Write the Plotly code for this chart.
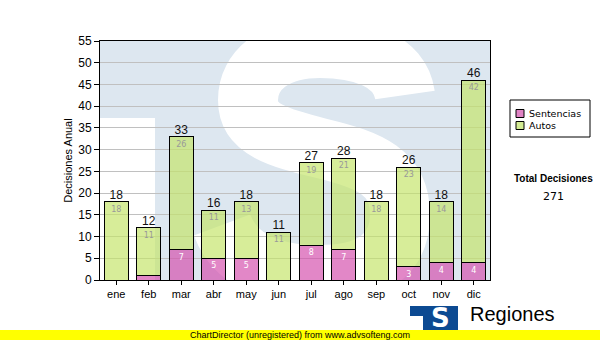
import plotly.graph_objects as go

# Monthly decisions, split by type
months = ["ene", "feb", "mar", "abr", "may", "jun", "jul", "ago", "sep", "oct", "nov", "dic"]
sentencias = [0, 1, 7, 5, 5, 0, 8, 7, 0, 3, 4, 4]
autos = [18, 11, 26, 11, 13, 11, 19, 21, 18, 23, 14, 42]
totals = [s + a for s, a in zip(sentencias, autos)]
grand_total = sum(totals)

series_names = ["Sentencias", "Autos"]
series_fill = ["rgba(212,78,172,0.68)", "rgba(196,228,104,0.68)"]
legend_swatch = ["#e082c4", "#d4ec94"]

W, H = 600, 340
ML, MR, MT, MB = 100, 110, 41, 60
PW, PH = W - ML - MR, H - MT - MB
YMAX = 55


def seg_text(vals):
    return [str(v) if v > 1 else "" for v in vals]


def to_data(px, py):
    # plot-area pixel offsets -> axis units (category index, value)
    return -0.5 + len(months) * px / PW, YMAX * (1 - py / PH)


def path_from(cmds):
    out = []
    for cmd, pts in cmds:
        coords = []
        for px, py in pts:
            x, y = to_data(px, py)
            coords.append(f"{x:.4f},{y:.4f}")
        out.append(cmd + " " + " ".join(coords))
    return " ".join(out)


def paper(px, py):
    return (px - ML) / PW, (H - MB - py) / PH


def label(px, py, text, size, family="Liberation Sans", color="black", anchor="center"):
    x, y = paper(px, py)
    return dict(xref="paper", yref="paper", x=x, y=y, xanchor=anchor, yanchor="middle",
                text=text, showarrow=False, font=dict(family=family, size=size, color=color))


def box(px0, py0, px1, py1, fill, line=None):
    x0, y0 = paper(px0, py1)
    x1, y1 = paper(px1, py0)
    return dict(type="rect", xref="paper", yref="paper", x0=x0, y0=y0, x1=x1, y1=y1,
                fillcolor=fill, line=line or dict(width=0), layer="above")


fig = go.Figure()

for name, vals, fill, tcolor in zip(series_names, [sentencias, autos], series_fill,
                                    ["white", "#999999"]):
    fig.add_trace(go.Bar(
        name=name, x=months, y=vals,
        marker=dict(color=fill, line=dict(color="black", width=1)),
        text=seg_text(vals), textposition="inside", insidetextanchor="end",
        textangle=0, constraintext="none",
        textfont=dict(family="DejaVu Sans", size=8, color=tcolor),
        hoverinfo="skip", showlegend=False,
    ))

fig.add_trace(go.Scatter(
    x=months, y=totals, mode="text", text=[str(t) for t in totals],
    textposition="top center", cliponaxis=False, showlegend=False,
    textfont=dict(family="Liberation Sans", size=12, color="#111111"),
    hoverinfo="skip",
))

shapes = []
annotations = []

# Watermark logo behind the bars
x0, y0 = to_data(0, 77)
x1, y1 = to_data(55, PH + 5)
shapes.append(dict(type="rect", xref="x", yref="y", x0=x0 - 0.5, y0=y1, x1=x1, y1=y0,
                   fillcolor="white", line=dict(width=0), layer="below"))
s_path = path_from([
    ("M", [(305, 54)]),
    ("C", [(300, 19), (260, 7), (220, 7)]),
    ("C", [(175, 7), (148, 29), (148, 59)]),
    ("C", [(148, 89), (180, 97), (220, 107)]),
    ("C", [(270, 119), (300, 131), (300, 174)]),
    ("C", [(300, 214), (270, 234), (220, 234)]),
    ("C", [(170, 234), (135, 219), (122, 184)]),
])
shapes.append(dict(type="path", xref="x", yref="y", path=s_path,
                   line=dict(color="white", width=60), layer="below"))

# Legend box
shapes.append(box(510, 100, 590, 137, "white", dict(color="black", width=1)))
for i, (name, sw) in enumerate(zip(series_names, legend_swatch)):
    cy = 113.5 + 12 * i
    shapes.append(box(516, cy - 4, 524, cy + 4, sw, dict(color="black", width=1)))
    annotations.append(label(527, cy, name, 9.5, family="DejaVu Sans", anchor="left"))

# Footer: logo and banner
shapes.append(box(410, 306, 458, 332, "#0c4a92"))
shapes.append(box(410, 316, 423, 332, "white"))
shapes.append(box(0, 330, W, H + 10, "#ffff00"))

annotations.append(label(553, 178, "<b>Total Decisiones</b>", 10))
annotations.append(label(553, 196, str(grand_total), 11, family="DejaVu Sans"))
annotations.append(label(300, 334.5, "ChartDirector (unregistered) from www.advsofteng.com", 9))
annotations.append(label(468, 314, "Regiones", 20, anchor="left"))
annotations.append(label(440, 318, "<b>S</b>", 26, family="DejaVu Sans", color="white"))

fig.update_layout(
    width=W, height=H,
    margin=dict(l=ML, r=MR, t=MT, b=MB, pad=0, autoexpand=False),
    paper_bgcolor="white", plot_bgcolor="#dde7f0",
    barmode="stack", bargap=0.26,
    font=dict(family="Liberation Sans", color="black"),
    showlegend=False,
    xaxis=dict(type="category", showline=True, linecolor="black", linewidth=1, mirror=True,
               ticks="outside", ticklen=4, tickcolor="black", showgrid=False,
               tickfont=dict(size=11), range=[-0.5, 11.5]),
    yaxis=dict(range=[0, YMAX], dtick=5, showline=True, linecolor="black", linewidth=1,
               mirror=True, ticks="outside", ticklen=5, tickcolor="black",
               gridcolor="#c0c0c0", gridwidth=1, zeroline=False,
               tickfont=dict(size=12),
               title=dict(text="Decisiones Anual", font=dict(size=11), standoff=3)),
    shapes=shapes,
    annotations=annotations,
)

fig.write_html("out.html")
